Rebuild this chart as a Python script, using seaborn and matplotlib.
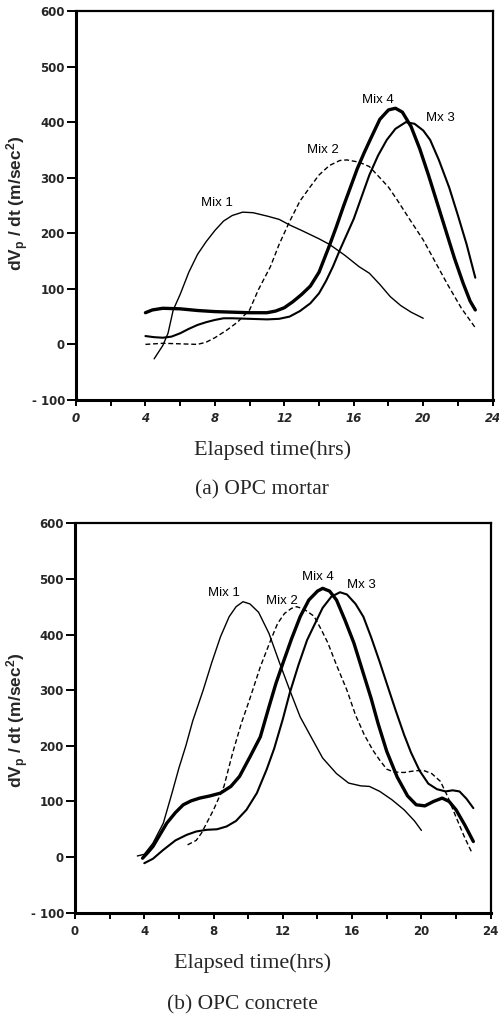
import numpy as np
import pandas as pd
import seaborn as sns
import matplotlib
matplotlib.use("Agg")
import matplotlib.pyplot as plt
from matplotlib.ticker import MultipleLocator, FixedLocator

# ---------------- data ----------------
# (a) OPC mortar
a_mix1_x = [4.5, 5.0, 5.3, 5.6, 6.0, 6.5, 7.0, 7.5, 8.0, 8.5, 9.0, 9.6, 10.2, 11.0, 11.7, 12.3, 13.0, 14.0, 14.6, 15.5, 16.3, 16.9, 17.5, 18.1, 18.7, 19.3, 20.0]
a_mix1_y = [-26, -2, 20, 62, 90, 130, 162, 185, 205, 222, 232, 238, 237, 231, 225, 215, 205, 190, 180, 160, 140, 128, 108, 86, 70, 58, 47]

a_mix2_x = [4.0, 5.0, 6.0, 7.0, 7.5, 8.0, 8.7, 9.3, 10.0, 10.5, 11.2, 11.7, 12.3, 12.9, 13.5, 14.0, 14.6, 15.2, 15.6, 16.3, 16.9, 17.5, 18.0, 18.5, 19.2, 20.0, 20.7, 21.4, 22.2, 23.0]
a_mix2_y = [0, 2, 1, 0, 4, 12, 26, 40, 62, 98, 140, 180, 221, 258, 284, 305, 322, 331, 332, 328, 320, 300, 283, 260, 226, 188, 148, 108, 65, 30]

a_mix3_x = [4.0, 4.5, 5.0, 5.5, 6.0, 6.5, 7.0, 7.5, 8.0, 8.5, 9.0, 10.0, 11.0, 11.7, 12.3, 12.9, 13.5, 14.0, 14.4, 14.8, 15.2, 15.6, 16.0, 16.5, 16.9, 17.4, 17.9, 18.4, 19.0, 19.5, 20.0, 20.4, 20.9, 21.5, 22.0, 22.5, 23.0]
a_mix3_y = [15, 13, 12, 14, 20, 28, 35, 40, 44, 47, 47, 46, 45, 46, 50, 60, 74, 92, 114, 140, 170, 198, 226, 270, 305, 340, 368, 388, 400, 397, 385, 368, 332, 282, 232, 180, 120]

a_mix4_x = [4.0, 4.4, 5.0, 6.0, 7.0, 8.0, 9.0, 10.0, 11.0, 11.5, 12.0, 12.5, 13.0, 13.5, 14.0, 14.6, 15.0, 15.4, 15.8, 16.2, 16.6, 17.0, 17.5, 18.0, 18.4, 18.8, 19.3, 19.8, 20.3, 20.8, 21.3, 21.8, 22.3, 22.7, 23.0]
a_mix4_y = [57, 62, 65, 64, 61, 59, 58, 57, 57, 60, 66, 77, 90, 105, 130, 178, 212, 248, 282, 316, 345, 372, 405, 422, 425, 418, 392, 352, 305, 255, 205, 155, 110, 78, 62]

# (b) OPC concrete
b_mix1_x = [3.6, 4.0, 4.5, 5.1, 5.6, 6.0, 6.4, 6.8, 7.4, 7.9, 8.4, 8.9, 9.3, 9.7, 10.1, 10.6, 11.2, 11.8, 12.4, 13.0, 13.7, 14.3, 15.1, 15.8, 16.5, 17.0, 17.6, 18.3, 19.0, 19.6, 20.0]
b_mix1_y = [2, 5, 25, 61, 115, 160, 200, 245, 300, 350, 396, 432, 450, 459, 455, 440, 402, 350, 300, 252, 212, 178, 150, 133, 128, 127, 118, 103, 85, 65, 48]

b_mix2_x = [6.5, 7.0, 7.3, 8.0, 8.6, 9.1, 9.6, 10.1, 10.7, 11.3, 11.7, 12.1, 12.5, 12.8, 13.2, 13.8, 14.2, 14.6, 15.1, 15.7, 16.2, 16.7, 17.2, 17.6, 18.0, 18.4, 19.0, 19.6, 20.1, 20.6, 21.1, 21.5, 22.0, 22.5, 22.9]
b_mix2_y = [22, 30, 43, 85, 127, 187, 240, 285, 342, 390, 420, 438, 447, 450, 446, 433, 410, 385, 345, 300, 255, 220, 192, 174, 158, 153, 152, 155, 156, 150, 136, 110, 72, 35, 9]

b_mix3_x = [4.0, 4.5, 5.1, 5.8, 6.45, 7.0, 7.6, 8.2, 8.75, 9.3, 9.9, 10.5, 11.06, 11.5, 12.0, 12.4, 12.9, 13.4, 13.8, 14.3, 14.8, 15.3, 15.7, 16.2, 16.65, 17.1, 17.6, 18.0, 18.5, 19.0, 19.4, 19.9, 20.4, 20.9, 21.4, 21.8, 22.2, 22.6, 23.0]
b_mix3_y = [-11, -3, 13, 30, 40, 46, 49, 50, 55, 65, 85, 115, 157, 195, 248, 295, 345, 390, 416, 448, 468, 476, 472, 455, 432, 395, 350, 312, 265, 220, 188, 155, 132, 122, 118, 120, 118, 105, 88]

b_mix4_x = [3.9, 4.2, 4.5, 4.9, 5.3, 5.8, 6.25, 6.7, 7.2, 7.8, 8.4, 9.0, 9.5, 10.1, 10.7, 11.2, 11.6, 12.0, 12.5, 13.0, 13.5, 14.0, 14.3, 14.7, 15.1, 15.6, 16.1, 16.6, 17.1, 17.5, 18.0, 18.6, 19.2, 19.7, 20.2, 20.7, 21.2, 21.6, 22.0, 22.5, 23.0]
b_mix4_y = [-2, 8, 19, 40, 61, 80, 94, 101, 106, 110, 115, 127, 145, 180, 216, 270, 312, 348, 392, 432, 462, 478, 483, 478, 462, 425, 385, 335, 285, 240, 190, 144, 110, 94, 92, 100, 106, 100, 85, 58, 28]

series_names = ["Mix 1", "Mix 2", "Mix 3", "Mix 4"]
label_texts = ["Mix 1", "Mix 2", "Mx 3", "Mix 4"]
a_label_pos = [(8.1, 255), (14.2, 350), (21.0, 407), (17.4, 440)]
b_label_pos = [(8.6, 474), (11.95, 461), (16.55, 489), (14.05, 503)]

x_ticks = [0, 4, 8, 12, 16, 20, 24]
y_ticks = [-100, 0, 100, 200, 300, 400, 500, 600]
y_tick_labels = ["- 100", "0", "100", "200", "300", "400", "500", "600"]
x_label = "Elapsed time(hrs)"
y_label = r"dV$_\mathbf{p}$ / dt (m/sec$^\mathbf{2}$)"
captions = ["(a) OPC mortar", "(b) OPC concrete"]

# ---------------- styling ----------------
sns.set_style("white")
plt.rcParams["font.family"] = ["Liberation Sans", "DejaVu Sans"]
plt.rcParams["mathtext.fontset"] = "custom"
plt.rcParams["mathtext.rm"] = "Liberation Sans"
plt.rcParams["mathtext.bf"] = "Liberation Sans:bold"
plt.rcParams["mathtext.it"] = "Liberation Sans:italic"

styles = {
    "Mix 1": dict(lw=1.0, ls="-"),
    "Mix 2": dict(lw=1.0, ls=(0, (3.5, 2.0))),
    "Mix 3": dict(lw=1.5, ls="-"),
    "Mix 4": dict(lw=2.4, ls="-"),
}

fig = plt.figure(figsize=(4.99, 10.19), dpi=100)
ax_a = fig.add_axes([0.1523, 0.6075, 0.835, 0.3817])
ax_b = fig.add_axes([0.1503, 0.1043, 0.833, 0.3822])

panels = [
    (ax_a, [(a_mix1_x, a_mix1_y), (a_mix2_x, a_mix2_y), (a_mix3_x, a_mix3_y), (a_mix4_x, a_mix4_y)], a_label_pos, True),
    (ax_b, [(b_mix1_x, b_mix1_y), (b_mix2_x, b_mix2_y), (b_mix3_x, b_mix3_y), (b_mix4_x, b_mix4_y)], b_label_pos, False),
]

for ax, data, lpos, italic in panels:
    for name, (xs, ys) in zip(series_names, data):
        df = pd.DataFrame({"t": xs, "v": ys})
        st = styles[name]
        sns.lineplot(data=df, x="t", y="v", ax=ax, color="black", lw=st["lw"],
                     sort=False, estimator=None, legend=False)
        ax.lines[-1].set_linestyle(st["ls"])
        ax.lines[-1].set_solid_joinstyle("round")
    for txt, (lx, ly) in zip(label_texts, lpos):
        ax.text(lx, ly, txt, ha="center", va="center", fontsize=9.5, color="black")

    ax.set_xlim(0, 24)
    ax.set_ylim(-100, 600)
    ax.set_xlabel("")
    ax.set_ylabel("")
    ax.xaxis.set_major_locator(FixedLocator(x_ticks))
    ax.xaxis.set_minor_locator(MultipleLocator(2))
    ax.yaxis.set_major_locator(FixedLocator(y_ticks))
    ax.set_yticklabels(y_tick_labels, fontsize=8.5, fontweight="bold", family="DejaVu Sans")
    ax.set_xticklabels([str(v) for v in x_ticks], fontsize=8.5, fontweight="bold",
                       family="DejaVu Sans",
                       fontstyle="italic" if italic else "normal")
    ax.tick_params(axis="y", which="major", direction="out", length=6.5, width=1.4,
                   pad=1.5, color="black", left=True, right=False)
    ax.tick_params(axis="x", which="both", direction="out", length=4.5, width=1.4,
                   pad=4, color="black", bottom=True, top=False)
    for sp in ax.spines.values():
        sp.set_visible(True)
        sp.set_color("black")
        sp.set_linewidth(1.6)
    ax.spines["left"].set_linewidth(2.2)
    ax.spines["bottom"].set_linewidth(2.2)

# axis labels and captions
fig.text(273 / 499, 1 - 450 / 1019, x_label, ha="center", va="center",
         fontsize=16, family="Liberation Serif")
fig.text(262 / 499, 1 - 490 / 1019, captions[0], ha="center", va="center",
         fontsize=15.5, family="Liberation Serif")
fig.text(253 / 499, 1 - 963 / 1019, x_label, ha="center", va="center",
         fontsize=16, family="Liberation Serif")
fig.text(242 / 499, 1 - 1005 / 1019, captions[1], ha="center", va="center",
         fontsize=15.5, family="Liberation Serif")

fig.text(18 / 499, 1 - 203 / 1019, y_label, rotation=90, ha="center", va="center",
         fontsize=12.5, fontweight="bold")
fig.text(18 / 499, 1 - 720 / 1019, y_label, rotation=90, ha="center", va="center",
         fontsize=12.5, fontweight="bold")

fig.savefig("out.png", dpi=100, facecolor="white")
